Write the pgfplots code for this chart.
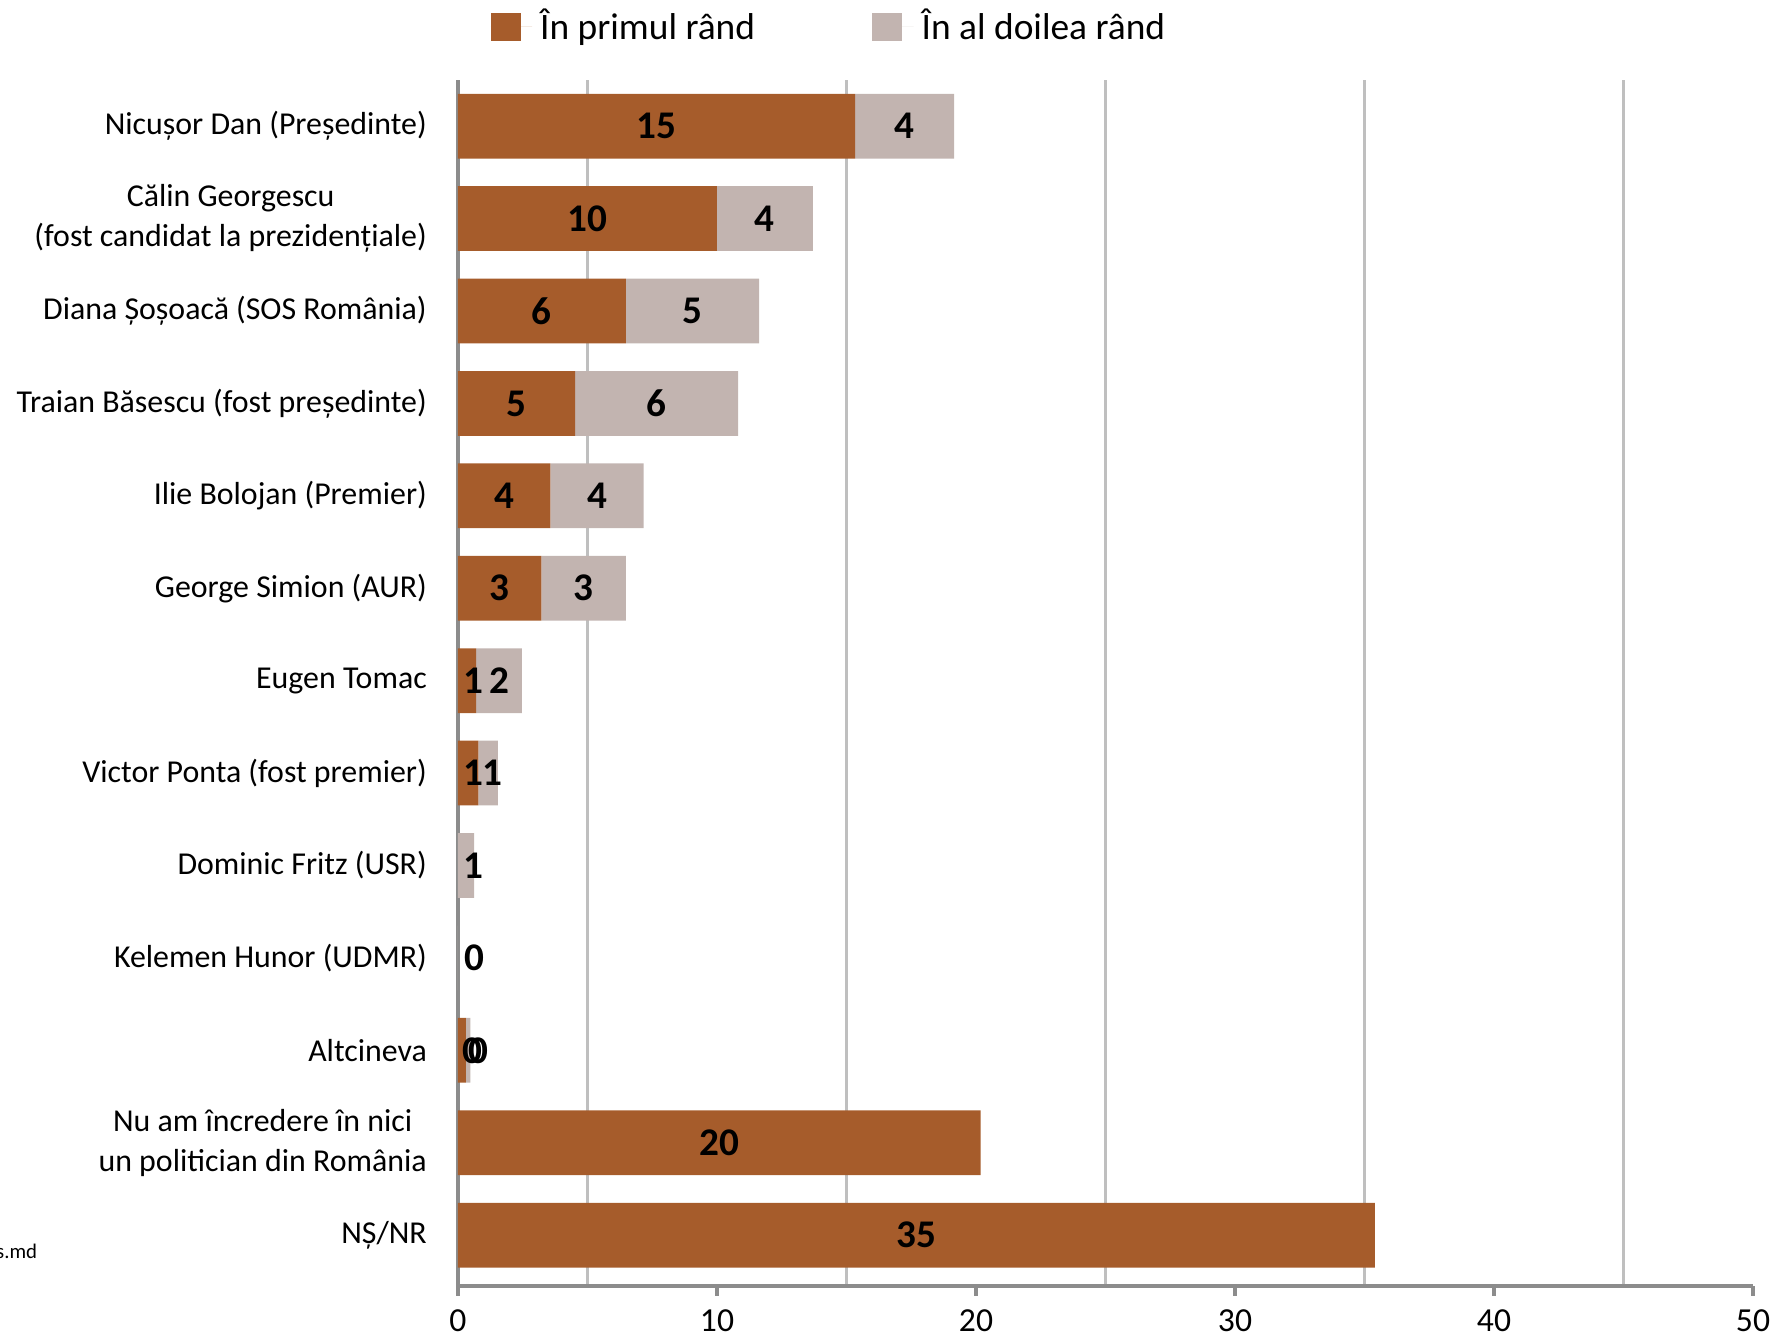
\documentclass[border=0pt]{standalone}
\usepackage{pgfplots}
\usepackage{pgfplotstable}
\pgfplotsset{compat=1.18}
\usepackage{fontspec}
\setmainfont{Carlito}
\definecolor{cOr}{RGB}{166,92,43}
\definecolor{cGr}{RGB}{194,180,176}
\definecolor{cGrid}{RGB}{191,191,191}
\definecolor{cAx}{RGB}{140,140,140}

% first-rank values (orange)
\pgfplotstableread{
y v off lab
12 15.33 0 15
11 10.00 0 10
10 6.48 0 6
9 4.52 0 5
8 3.57 0 4
7 3.22 0 3
6 0.70 0.26 1
5 0.79 0.20 1
4 0 0 {}
3 0 0 {}
2 0.30 0.40 0
1 20.18 0 20
0 35.40 0 35
}\first

% second-rank values (grey)
\pgfplotstableread{
y v off lab
12 3.83 0 4
11 3.70 0 4
10 5.15 0 5
9 6.30 0 6
8 3.60 0 4
7 3.26 0 3
6 1.77 0 2
5 0.75 0.15 1
4 0.62 0.30 1
3 0.0001 0.62 0
2 0.18 0.40 0
1 0 0 {}
0 0 0 {}
}\second

\begin{document}
\begin{tikzpicture}
\begin{axis}[
  xbar stacked,
  bar width=16.2pt,
  scale only axis,
  width=323.75pt, height=301.5pt,
  xmin=0, xmax=50, ymin=-0.55, ymax=12.5,
  axis x line*=bottom, axis y line*=left,
  axis line style={cAx, line width=0.8pt},
  xtick={0,10,...,50},
  minor xtick={5,15,25,35,45},
  xminorgrids=true,
  minor grid style={cGrid, line width=0.6pt},
  minor tick length=0pt,
  major tick length=2.5pt,
  xtick align=outside,
  xtick style={cAx, line width=0.8pt},
  ytick={0,...,12},
  ytick style={draw=none},
  yticklabels={
    NȘ/NR,
    {Nu am încredere în nici\\un politician din România},
    Altcineva,
    Kelemen Hunor (UDMR),
    Dominic Fritz (USR),
    Victor Ponta (fost premier),
    Eugen Tomac,
    George Simion (AUR),
    Ilie Bolojan (Premier),
    Traian Băsescu (fost președinte),
    Diana Șoșoacă (SOS România),
    {Călin Georgescu\\(fost candidat la prezidențiale)},
    Nicușor Dan (Președinte)},
  yticklabel style={align=center, font=\fontsize{7.97}{10}\selectfont, inner sep=0pt, xshift=-7.6pt},
  xticklabel style={font=\fontsize{8.4}{10}\selectfont},
  /pgf/number format/assume math mode=true,
  point meta=explicit symbolic,
  nodes near coords,
  visualization depends on={\thisrow{off} \as \segshift},
  every node near coord/.append style={anchor=center, font=\bfseries\fontsize{9.8}{10}\selectfont, text=black, shift={(axis direction cs:\segshift,0)}},
  legend style={at={(axis description cs:0.2888,1)}, anchor=center, yshift=13.25pt, draw=none, fill=none,
    font=\fontsize{9.35}{11}\selectfont, legend columns=2,
    /tikz/every even column/.append style={column sep=27.3pt}},
  clip=false,
]
\addplot[fill=cOr, draw=none, legend image code/.code={\fill[cOr] (0pt,-3.6pt) rectangle (7.5pt,3.6pt); \path (0pt,0pt) -- (10.35pt,0pt);}]
  table[x=v, y=y, meta=lab] {\first};
\addplot[fill=cGr, draw=none, legend image code/.code={\fill[cGr] (0pt,-3.6pt) rectangle (7.5pt,3.6pt); \path (0pt,0pt) -- (10.35pt,0pt);}]
  table[x=v, y=y, meta=lab] {\second};
\legend{În primul rând, În al doilea rând}
\coordinate (bl) at (rel axis cs:0,0);
\coordinate (tr) at (rel axis cs:1,1);
\end{axis}
\node[anchor=east, font=\fontsize{5.2}{6}\selectfont, inner sep=0pt] at ([xshift=-105pt, yshift=8.75pt]bl) {Sursa: imas.md};
\pgfresetboundingbox
\path ([xshift=-114.5pt,yshift=-12.25pt]bl) rectangle ([xshift=8.75pt,yshift=20pt]tr);
\end{tikzpicture}
\end{document}
